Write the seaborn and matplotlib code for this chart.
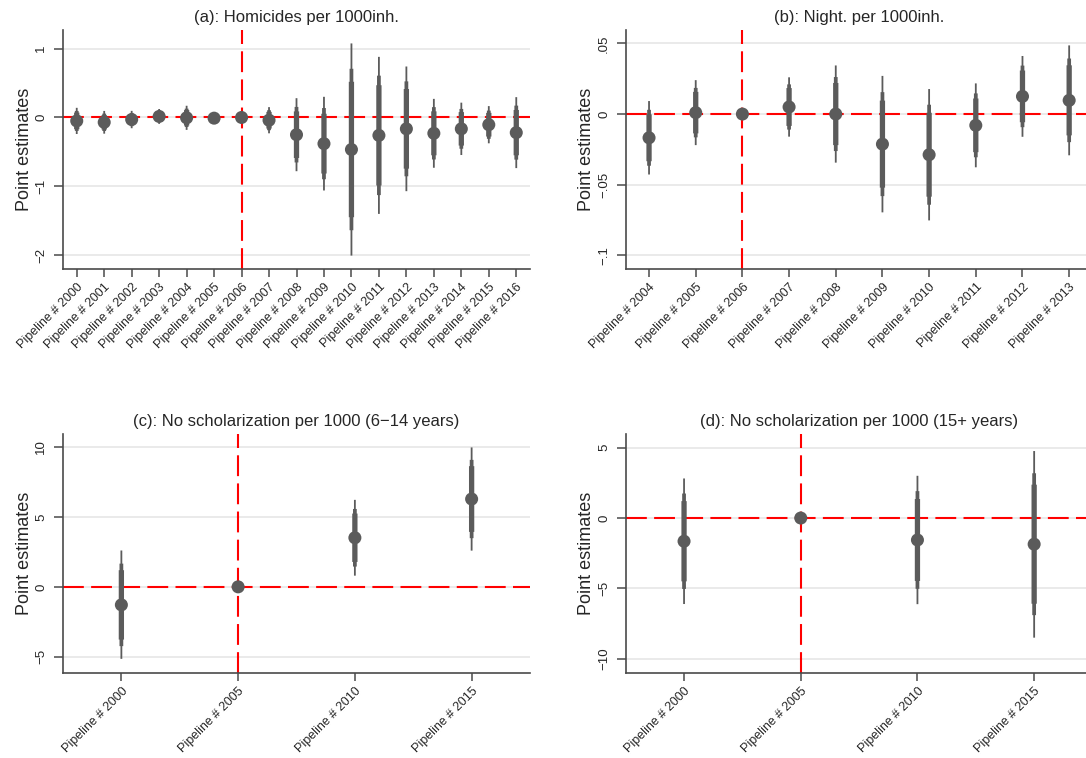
import numpy as np
import pandas as pd
import matplotlib
matplotlib.use("Agg")
import matplotlib.pyplot as plt
import seaborn as sns

nan = np.nan

# ---------------- data ----------------
titles = ["(a): Homicides per 1000inh.",
          "(b): Night. per 1000inh.",
          "(c): No scholarization per 1000 (6\u221214 years)",
          "(d): No scholarization per 1000 (15+ years)"]

years_a = [2000, 2001, 2002, 2003, 2004, 2005, 2006, 2007, 2008,
           2009, 2010, 2011, 2012, 2013, 2014, 2015, 2016]
est_a = [-0.05, -0.07, -0.03, 0.015, -0.005, -0.01, 0.0, -0.04, -0.25,
         -0.38, -0.465, -0.26, -0.165, -0.23, -0.165, -0.105, -0.22]
lo99_a = [-0.24, -0.235, -0.156, -0.093, -0.18, -0.07, nan, -0.23, -0.78,
          -1.06, -2.005, -1.40, -1.07, -0.73, -0.545, -0.375, -0.735]
hi99_a = [0.14, 0.095, 0.096, 0.123, 0.17, 0.05, nan, 0.15, 0.28,
          0.30, 1.075, 0.88, 0.74, 0.27, 0.215, 0.165, 0.295]
lo95_a = [-0.195, -0.196, -0.126, -0.067, -0.138, -0.056, nan, -0.185, -0.653,
          -0.897, -1.637, -1.127, -0.854, -0.61, -0.454, -0.31, -0.612]
hi95_a = [0.095, 0.056, 0.066, 0.097, 0.128, 0.036, nan, 0.105, 0.153,
          0.137, 0.707, 0.607, 0.524, 0.15, 0.124, 0.10, 0.172]
lo90_a = [-0.171, -0.175, -0.11, -0.054, -0.117, -0.048, nan, -0.161, -0.588,
          -0.814, -1.448, -0.988, -0.743, -0.549, -0.408, -0.277, -0.549]
hi90_a = [0.071, 0.035, 0.05, 0.084, 0.107, 0.028, nan, 0.081, 0.088,
          0.054, 0.518, 0.468, 0.413, 0.089, 0.078, 0.067, 0.109]
ref_a = 2006
yticks_a = [1, 0, -1, -2]
yticklabels_a = ["1", "0", "\u22121", "\u22122"]
ylim_a = (-2.2, 1.27)

years_b = [2004, 2005, 2006, 2007, 2008, 2009, 2010, 2011, 2012, 2013]
est_b = [-0.0168, 0.001, 0.0, 0.005, 0.0, -0.0213, -0.0288, -0.008, 0.0125, 0.0097]
lo99_b = [-0.0428, -0.022, nan, -0.016, -0.0344, -0.0696, -0.0753, -0.0377, -0.0161, -0.0292]
hi99_b = [0.0092, 0.024, nan, 0.026, 0.0344, 0.027, 0.0177, 0.0217, 0.0411, 0.0486]
lo95_b = [-0.0366, -0.0165, nan, -0.011, -0.0262, -0.0581, -0.0642, -0.0306, -0.0093, -0.0199]
hi95_b = [0.003, 0.0185, nan, 0.021, 0.0262, 0.0155, 0.0066, 0.0146, 0.0343, 0.0393]
lo90_b = [-0.0334, -0.0137, nan, -0.0084, -0.022, -0.0521, -0.0585, -0.027, -0.0058, -0.0151]
hi90_b = [-0.0002, 0.0157, nan, 0.0184, 0.022, 0.0095, 0.0009, 0.011, 0.0308, 0.0345]
ref_b = 2006
yticks_b = [0.05, 0, -0.05, -0.1]
yticklabels_b = [".05", "0", "\u2212.05", "\u2212.1"]
ylim_b = (-0.1097, 0.0595)

years_c = [2000, 2005, 2010, 2015]
est_c = [-1.29, 0.0, 3.51, 6.28]
lo99_c = [-5.15, nan, 0.8, 2.59]
hi99_c = [2.6, nan, 6.22, 9.97]
lo95_c = [-4.24, nan, 1.45, 3.48]
hi95_c = [1.66, nan, 5.57, 9.08]
lo90_c = [-3.77, nan, 1.78, 3.93]
hi90_c = [1.19, nan, 5.24, 8.63]
ref_c = 2005
yticks_c = [10, 5, 0, -5]
yticklabels_c = ["10", "5", "0", "\u22125"]
ylim_c = (-6.14, 10.93)

years_d = [2000, 2005, 2010, 2015]
est_d = [-1.65, 0.0, -1.56, -1.86]
lo99_d = [-6.11, nan, -6.12, -8.5]
hi99_d = [2.81, nan, 3.0, 4.76]
lo95_d = [-5.04, nan, -5.03, -6.9]
hi95_d = [1.74, nan, 1.91, 3.18]
lo90_d = [-4.5, nan, -4.47, -6.09]
hi90_d = [1.2, nan, 1.35, 2.37]
ref_d = 2005
yticks_d = [5, 0, -5, -10]
yticklabels_d = ["5", "0", "\u22125", "\u221210"]
ylim_d = (-10.99, 5.97)

panels = [
    (years_a, est_a, lo99_a, hi99_a, lo95_a, hi95_a, lo90_a, hi90_a, ref_a, yticks_a, yticklabels_a, ylim_a),
    (years_b, est_b, lo99_b, hi99_b, lo95_b, hi95_b, lo90_b, hi90_b, ref_b, yticks_b, yticklabels_b, ylim_b),
    (years_c, est_c, lo99_c, hi99_c, lo95_c, hi95_c, lo90_c, hi90_c, ref_c, yticks_c, yticklabels_c, ylim_c),
    (years_d, est_d, lo99_d, hi99_d, lo95_d, hi95_d, lo90_d, hi90_d, ref_d, yticks_d, yticklabels_d, ylim_d),
]

# ---------------- style ----------------
sns.set_style("white")
plt.rcParams['font.family'] = ['Liberation Sans', 'DejaVu Sans']

W, H = 1086, 758
fig = plt.figure(figsize=(W / 100, H / 100), dpi=100)

# axes boxes in pixels: (left, top, right, bottom)
boxes = [(63, 30, 530, 269), (625.7, 30, 1092.5, 269),
         (63, 434, 530, 672.7), (625.7, 434, 1092.5, 672.7)]

gray = "#5b5b5b"
spine_col = "#4a4a4a"

for title, box, p in zip(titles, boxes, panels):
    years, est, lo99, hi99, lo95, hi95, lo90, hi90, ref, yt, ytl, ylim = p
    l, t, r, b = box
    ax = fig.add_axes([l / W, 1 - b / H, (r - l) / W, (b - t) / H])
    labels = [f"Pipeline # {y}" for y in years]
    df = pd.DataFrame({"label": labels, "est": est,
                       "lo99": lo99, "hi99": hi99, "lo95": lo95, "hi95": hi95,
                       "lo90": lo90, "hi90": hi90})

    # grid
    for v in yt:
        ax.axhline(v, color="#e6e6e6", lw=1.2, zorder=0)

    # reference lines
    ax.axhline(0, color="red", lw=1.5, dashes=(10, 3.5), zorder=1.5)

    for lo, hi, lw, z in [("lo99", "hi99", 1.3, 2), ("lo95", "hi95", 2.7, 2.1),
                          ("lo90", "hi90", 3.8, 2.2)]:
        lc = ax.vlines(df["label"], df[lo], df[hi], color=gray, lw=lw, zorder=z)
        lc.set_snap(False)
        lc.set_capstyle("butt")
    sns.scatterplot(data=df, x="label", y="est", ax=ax, s=88, color=gray,
                    edgecolor="none", linewidth=0, zorder=3, legend=False)

    ref_label = f"Pipeline # {ref}"
    ax.axvline(labels.index(ref_label), color="red", lw=1.5, dashes=(10, 3.5), zorder=1.5)

    ax.set_xlim(-0.5, len(labels) - 0.5)
    ax.set_ylim(*ylim)
    ax.set_yticks(yt)
    ax.set_yticklabels(ytl)
    ax.set_xticks(range(len(labels)))
    ax.set_xticklabels(labels)

    ax.set_xlabel("")
    ax.set_ylabel("Point estimates", fontsize=13, labelpad=2)
    ax.set_title(title, fontsize=12, pad=6)

    for s in ["top", "right"]:
        ax.spines[s].set_visible(False)
    for s in ["left", "bottom"]:
        ax.spines[s].set_color(spine_col)
        ax.spines[s].set_linewidth(1.2)

    ax.tick_params(axis="y", direction="out", length=6.3, width=1.1, color=spine_col,
                   labelsize=9.5, pad=5, left=True)
    ax.tick_params(axis="x", direction="out", length=5.8, width=1.1, color=spine_col,
                   labelsize=9, pad=3, bottom=True)
    for lab in ax.get_yticklabels():
        lab.set_rotation(90)
        lab.set_va("center")
    for lab in ax.get_xticklabels():
        lab.set_rotation(45)
        lab.set_ha("right")
        lab.set_rotation_mode("anchor")

fig.savefig("out.png", dpi=100)
